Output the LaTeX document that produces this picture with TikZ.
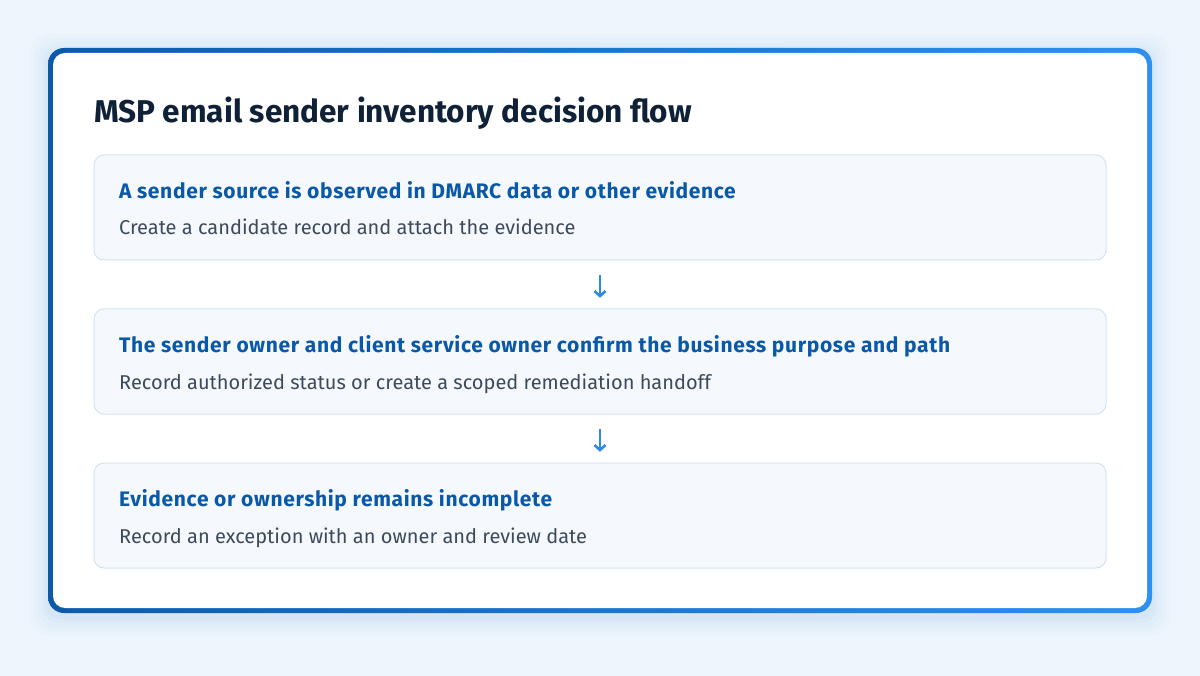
\documentclass[tikz,border=0pt]{standalone}
\usepackage{fontspec}
\setmainfont{Fira Sans}
\newfontfamily\headfont[LetterSpace=3.1]{Fira Sans}
\usetikzlibrary{arrows.meta}
\definecolor{bgc}{HTML}{EEF5FC}
\definecolor{titlec}{HTML}{0F2136}
\definecolor{headc}{HTML}{0A58A8}
\definecolor{subc}{HTML}{3C4A5C}
\definecolor{arrc}{HTML}{2B8AE8}
\definecolor{boxfill}{HTML}{F5F9FE}
\definecolor{boxline}{HTML}{D4E3F3}
\definecolor{borderl}{HTML}{0B5AAA}
\definecolor{borderr}{HTML}{2E90F0}
\definecolor{shadowc}{HTML}{9CC3EC}
\begin{document}
\begin{tikzpicture}[x=1pt,y=-1pt,
  stepbox/.style={draw=boxline, line width=1pt, fill=boxfill, rounded corners=10pt},
  headtxt/.style={anchor=base west, inner sep=0pt, text=headc, font=\headfont\fontsize{21}{24}\selectfont\bfseries},
  subtxt/.style={anchor=base west, inner sep=0pt, text=subc, font=\fontsize{20}{24}\selectfont},
  flowarrow/.style={draw=arrc, line width=2.6pt, -{Straight Barb[length=5pt,width=11pt]}, shorten <=15pt, shorten >=11pt}
]
\useasboundingbox (0,0) rectangle (1200,676);
\fill[bgc] (0,0) rectangle (1200,676);
% soft shadow
\foreach \d/\o in {18/0.04,14/0.05,10/0.06,6/0.07,3/0.08}{
  \fill[shadowc, opacity=\o, rounded corners=18pt] (48-\d,48-\d+4) rectangle (1152+\d,613+\d+4);
}
% card border (gradient) and white card
\shade[left color=borderl, right color=borderr, rounded corners=16pt] (48,48) rectangle (1152,613);
\fill[white, rounded corners=12pt] (53,53) rectangle (1147,608);
% title
\node[anchor=base west, inner sep=0pt, text=titlec, font=\fontsize{31.5}{36}\selectfont\bfseries] (title) at (94,123) {MSP email sender inventory decision flow};
% boxes
\draw[stepbox] (94,155) rectangle (1106,260);
\node (b1) at (600,207.5) [minimum width=1012pt, minimum height=105pt, inner sep=0pt] {};
\draw[stepbox] (94,309) rectangle (1106,414);
\node (b2) at (600,361.5) [minimum width=1012pt, minimum height=105pt, inner sep=0pt] {};
\draw[stepbox] (94,463) rectangle (1106,568);
\node (b3) at (600,515.5) [minimum width=1012pt, minimum height=105pt, inner sep=0pt] {};
% texts
\node[headtxt] (h1) at (119,198.5) {A sender source is observed in DMARC data or other evidence};
\node[subtxt] (s1) at (119,235) {Create a candidate record and attach the evidence};
\node[headtxt] (h2) at (119,352.5) {The sender owner and client service owner confirm the business purpose and path};
\node[subtxt] (s2) at (119,389) {Record authorized status or create a scoped remediation handoff};
\node[headtxt] (h3) at (119,506.5) {Evidence or ownership remains incomplete};
\node[subtxt] (s3) at (119,543) {Record an exception with an owner and review date};
% arrows
\draw[flowarrow] (b1.south) -- (b2.north);
\draw[flowarrow] (b2.south) -- (b3.north);
\end{tikzpicture}
\end{document}
